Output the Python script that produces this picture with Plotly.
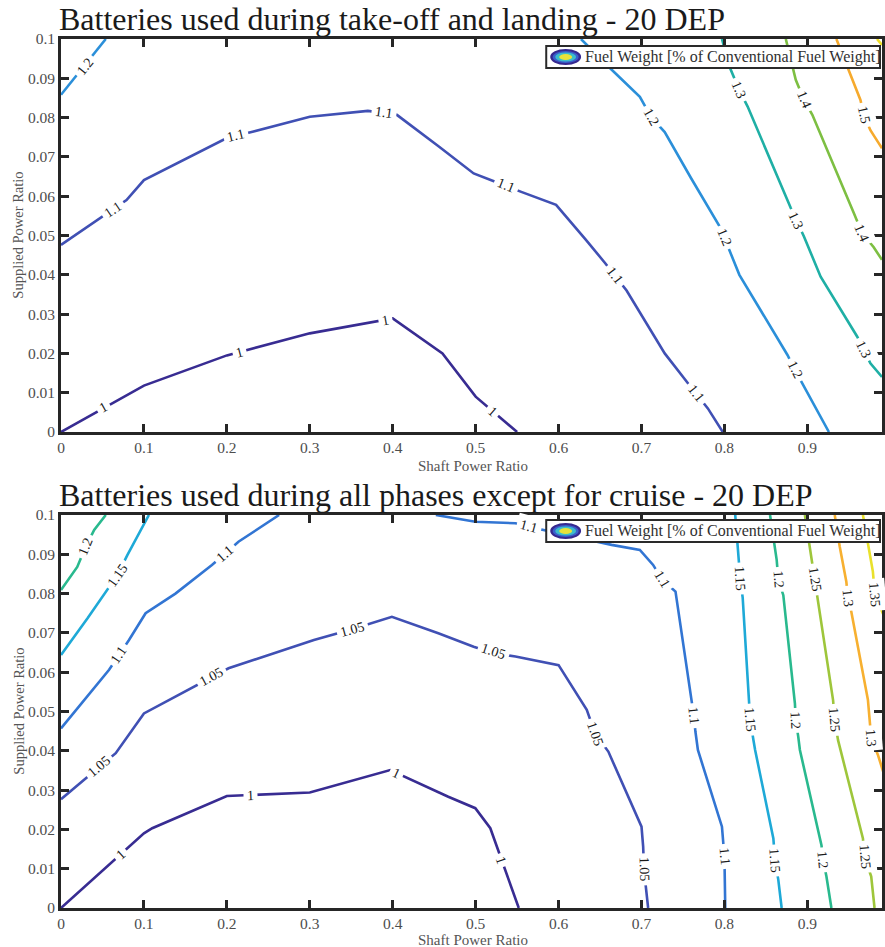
import math
import plotly.graph_objects as go

# ---------------------------------------------------------------------------
# Contour lines of fuel weight [% of conventional fuel weight]
# x = shaft power ratio, y = supplied power ratio
# ---------------------------------------------------------------------------

# Panel 1: batteries used during take-off and landing
top_100_x = [0, 0.1, 0.2, 0.3, 0.4, 0.46, 0.5, 0.55]
top_100_y = [0, 0.0118, 0.0195, 0.0251, 0.0289, 0.020, 0.009, 0]
top_100_labels = [(0.051, 0.0062), (0.215, 0.0203), (0.391, 0.0284), (0.52, 0.0052)]

top_110_x = [0, 0.079, 0.1, 0.2, 0.231, 0.3, 0.37, 0.405, 0.456, 0.4976, 0.555,
             0.597, 0.633, 0.656, 0.682, 0.728, 0.756, 0.78, 0.798]
top_110_y = [0.0476, 0.059, 0.0641, 0.0748, 0.0764, 0.0802, 0.0817, 0.0807, 0.0726,
             0.0658, 0.0611, 0.0578, 0.0489, 0.043, 0.036, 0.020, 0.0124, 0.006, 0]
top_110_labels = [(0.063, 0.0567), (0.211, 0.0754), (0.389, 0.0812), (0.537, 0.0626),
                  (0.668, 0.0398), (0.766, 0.0097)]

top_120a_x = [0, 0.054]
top_120a_y = [0.0858, 0.1]
top_120a_labels = [(0.029, 0.0931)]

top_120b_x = [0.627, 0.66, 0.698, 0.712, 0.728, 0.76, 0.795, 0.818, 0.876, 0.885, 0.926]
top_120b_y = [0.1, 0.093, 0.0853, 0.080, 0.0763, 0.0645, 0.052, 0.040, 0.0196, 0.0158, 0]
top_120b_labels = [(0.712, 0.080), (0.8, 0.0494), (0.885, 0.0158)]

top_130_x = [0.797, 0.806, 0.818, 0.828, 0.88, 0.896, 0.916, 0.96, 0.976, 0.99]
top_130_y = [0.1, 0.093, 0.087, 0.0828, 0.057, 0.0497, 0.0395, 0.0243, 0.0175, 0.014]
top_130_labels = [(0.818, 0.087), (0.886, 0.0538), (0.968, 0.0211)]

top_140_x = [0.874, 0.886, 0.896, 0.906, 0.956, 0.966, 0.98, 0.99]
top_140_y = [0.1, 0.0896, 0.0845, 0.0807, 0.0557, 0.0506, 0.047, 0.0438]
top_140_labels = [(0.896, 0.0845), (0.966, 0.0506)]

top_150_x = [0.935, 0.964, 0.968, 0.976, 0.986, 0.99]
top_150_y = [0.1, 0.0845, 0.0807, 0.0768, 0.0735, 0.0722]
top_150_labels = [(0.968, 0.0807)]

top_160_x = [0.984, 0.99]
top_160_y = [0.1, 0.0985]
top_160_labels = []

# Panel 2: batteries used during all phases except for cruise
bot_100_x = [0, 0.1, 0.11, 0.2, 0.3, 0.397, 0.467, 0.4996, 0.5177, 0.552]
bot_100_y = [0, 0.019, 0.0203, 0.0285, 0.0294, 0.0351, 0.0283, 0.0254, 0.0203, 0]
bot_100_labels = [(0.072, 0.0137), (0.228, 0.0287), (0.405, 0.0343), (0.531, 0.0122)]

bot_105_x = [0, 0.066, 0.1, 0.182, 0.202, 0.305, 0.351, 0.399, 0.455, 0.4976, 0.522,
             0.548, 0.6, 0.634, 0.644, 0.66, 0.7, 0.702, 0.703, 0.708]
bot_105_y = [0.0277, 0.0394, 0.0495, 0.0589, 0.061, 0.0682, 0.0709, 0.0741, 0.0699,
             0.0665, 0.0648, 0.064, 0.0618, 0.0504, 0.0444, 0.0398, 0.0207, 0.0156,
             0.0097, 0]
bot_105_labels = [(0.046, 0.0359), (0.182, 0.0589), (0.351, 0.0709), (0.522, 0.0652),
                  (0.644, 0.0444), (0.703, 0.0097)]

bot_110a_x = [0, 0.018, 0.058, 0.082, 0.102, 0.138, 0.182, 0.198, 0.214, 0.263]
bot_110a_y = [0.0457, 0.0504, 0.0606, 0.0682, 0.075, 0.080, 0.0873, 0.0902, 0.0932, 0.1]
bot_110a_labels = [(0.07, 0.0644), (0.198, 0.0902)]

bot_110b_x = [0.452, 0.4996, 0.548, 0.564, 0.664, 0.698, 0.714, 0.725, 0.741, 0.761,
              0.763, 0.765, 0.768, 0.797, 0.798, 0.8, 0.801]
bot_110b_y = [0.1, 0.0983, 0.0979, 0.097, 0.0924, 0.0911, 0.0873, 0.0835, 0.0805,
              0.0529, 0.049, 0.0449, 0.0402, 0.0207, 0.0173, 0.013, 0]
bot_110b_labels = [(0.564, 0.097), (0.725, 0.0835), (0.763, 0.049), (0.8, 0.013)]

bot_115a_x = [0, 0.032, 0.068, 0.08, 0.106]
bot_115a_y = [0.0644, 0.0737, 0.0847, 0.0898, 0.1]
bot_115a_labels = [(0.068, 0.0847)]

bot_115b_x = [0.813, 0.817, 0.819, 0.822, 0.829, 0.831, 0.835, 0.837, 0.859, 0.861,
              0.865, 0.869]
bot_115b_y = [0.1, 0.09, 0.0839, 0.079, 0.0529, 0.048, 0.0427, 0.0402, 0.0177, 0.0122,
              0.0071, 0]
bot_115b_labels = [(0.819, 0.0839), (0.831, 0.048), (0.861, 0.0122)]

bot_120a_x = [0, 0.0196, 0.0297, 0.04, 0.054]
bot_120a_y = [0.0809, 0.0868, 0.0919, 0.0962, 0.1]
bot_120a_labels = [(0.0297, 0.0919)]

bot_120b_x = [0.855, 0.863, 0.865, 0.871, 0.885, 0.886, 0.889, 0.891, 0.917, 0.919,
              0.923, 0.929]
bot_120b_y = [0.1, 0.0886, 0.0835, 0.0796, 0.052, 0.0478, 0.0436, 0.0402, 0.016, 0.0122,
              0.008, 0]
bot_120b_labels = [(0.865, 0.0835), (0.886, 0.0478), (0.919, 0.0122)]

bot_125_x = [0.897, 0.905, 0.909, 0.913, 0.931, 0.933, 0.937, 0.967, 0.969, 0.977, 0.981]
bot_125_y = [0.1, 0.089, 0.0835, 0.0784, 0.0529, 0.0478, 0.0427, 0.0177, 0.013, 0.008, 0]
bot_125_labels = [(0.909, 0.0835), (0.933, 0.0478), (0.969, 0.013)]

bot_130_x = [0.933, 0.939, 0.947, 0.949, 0.953, 0.973, 0.977, 0.985, 0.992]
bot_130_y = [0.1, 0.092, 0.083, 0.0788, 0.0754, 0.053, 0.0432, 0.039, 0.0343]
bot_130_labels = [(0.949, 0.0788), (0.977, 0.0432)]

bot_135_x = [0.967, 0.979, 0.9815, 0.9895, 0.992]
bot_135_y = [0.1, 0.0856, 0.0796, 0.0758, 0.0745]
bot_135_labels = [(0.9815, 0.0796)]

top_lines = [
    (1.0, top_100_x, top_100_y, top_100_labels),
    (1.1, top_110_x, top_110_y, top_110_labels),
    (1.2, top_120a_x, top_120a_y, top_120a_labels),
    (1.2, top_120b_x, top_120b_y, top_120b_labels),
    (1.3, top_130_x, top_130_y, top_130_labels),
    (1.4, top_140_x, top_140_y, top_140_labels),
    (1.5, top_150_x, top_150_y, top_150_labels),
    (1.6, top_160_x, top_160_y, top_160_labels),
]
bot_lines = [
    (1.0, bot_100_x, bot_100_y, bot_100_labels),
    (1.05, bot_105_x, bot_105_y, bot_105_labels),
    (1.1, bot_110a_x, bot_110a_y, bot_110a_labels),
    (1.1, bot_110b_x, bot_110b_y, bot_110b_labels),
    (1.15, bot_115a_x, bot_115a_y, bot_115a_labels),
    (1.15, bot_115b_x, bot_115b_y, bot_115b_labels),
    (1.2, bot_120a_x, bot_120a_y, bot_120a_labels),
    (1.2, bot_120b_x, bot_120b_y, bot_120b_labels),
    (1.25, bot_125_x, bot_125_y, bot_125_labels),
    (1.3, bot_130_x, bot_130_y, bot_130_labels),
    (1.35, bot_135_x, bot_135_y, bot_135_labels),
]

titles = ["Batteries used during take-off and landing - 20 DEP",
          "Batteries used during all phases except for cruise - 20 DEP"]
x_ticks = [0, 0.1, 0.2, 0.3, 0.4, 0.5, 0.6, 0.7, 0.8, 0.9]
x_ticktext = ["0", "0.1", "0.2", "0.3", "0.4", "0.5", "0.6", "0.7", "0.8", "0.9"]
y_ticks = [0, 0.01, 0.02, 0.03, 0.04, 0.05, 0.06, 0.07, 0.08, 0.09, 0.1]
y_ticktext = ["0", "0.01", "0.02", "0.03", "0.04", "0.05", "0.06", "0.07", "0.08",
              "0.09", "0.1"]
legend_text = "Fuel Weight [% of Conventional Fuel Weight]"

# ---------------------------------------------------------------------------
# Styling
# ---------------------------------------------------------------------------
TOP_COLORS = {1.0: "#382c92", 1.1: "#4050b4", 1.2: "#2b8fd9", 1.3: "#1fafa5",
              1.4: "#7dbf42", 1.5: "#f6aa2d", 1.6: "#f0df2a"}
BOT_COLORS = {1.0: "#382c92", 1.05: "#4050b4", 1.1: "#3275d3", 1.15: "#1ea9d7",
              1.2: "#29b98e", 1.25: "#9ec63b", 1.3: "#f7b030", 1.35: "#e9e12c"}

W, H = 885, 947
ML, MR, MT, MB = 61, 0, 39, 39
XMAX = 0.99
PLOT_W = W - ML - MR
PLOT_H = H - MT - MB
SX = PLOT_W / XMAX          # pixels per unit of shaft power ratio
SY = 393 / 0.1              # pixels per unit of supplied power ratio
TOP_DOMAIN = [(H - MB - 432) / PLOT_H, 1.0]
BOT_DOMAIN = [0.0, (H - MB - 515) / PLOT_H]

SERIF = "Liberation Serif, Times New Roman, serif"
AXIS_COLOR = "#262626"
TICK_FONT_COLOR = "#4d4d4d"


def px_x(px):
    return (px - ML) / PLOT_W


def px_y(py):
    return (H - MB - py) / PLOT_H


def label_angle(xs, ys, lx, ly):
    """Angle (clockwise, degrees) of the segment nearest to a label point."""
    best = None
    for i in range(len(xs) - 1):
        ax, ay = xs[i] * SX, -ys[i] * SY
        bx, by = xs[i + 1] * SX, -ys[i + 1] * SY
        px, py = lx * SX, -ly * SY
        dx, dy = bx - ax, by - ay
        L2 = dx * dx + dy * dy
        t = 0 if L2 == 0 else max(0, min(1, ((px - ax) * dx + (py - ay) * dy) / L2))
        d = math.hypot(ax + t * dx - px, ay + t * dy - py)
        if best is None or d < best[0]:
            best = (d, dx, dy)
    ang = math.degrees(math.atan2(best[2], best[1]))
    if ang > 90:
        ang -= 180
    elif ang < -90:
        ang += 180
    return ang


fig = go.Figure()
annotations = []
shapes = []

for lines, colors, xa, ya in [(top_lines, TOP_COLORS, "x", "y"),
                              (bot_lines, BOT_COLORS, "x2", "y2")]:
    for level, xs, ys, labels in lines:
        fig.add_trace(go.Scatter(
            x=xs, y=ys, mode="lines", xaxis=xa, yaxis=ya,
            line=dict(color=colors[level], width=2.6),
            showlegend=False, hoverinfo="skip",
        ))
        for lx, ly in labels:
            annotations.append(dict(
                x=lx, y=ly, xref=xa, yref=ya, text=f"{level:g}", showarrow=False,
                textangle=label_angle(xs, ys, lx, ly),
                font=dict(family=SERIF, size=14, color="#1a1a1a"),
                bgcolor="white", borderpad=3,
            ))

axis_common = dict(
    showline=True, linecolor=AXIS_COLOR, linewidth=2.6, mirror="ticks",
    ticks="inside", ticklen=8, tickwidth=2.5, tickcolor=AXIS_COLOR,
    showgrid=False, zeroline=False,
    tickfont=dict(family=SERIF, size=15.5, color=TICK_FONT_COLOR),
)

fig.update_layout(
    width=W, height=H,
    margin=dict(l=ML, r=MR, t=MT, b=MB),
    paper_bgcolor="white", plot_bgcolor="white",
    xaxis=dict(axis_common, domain=[0, 1], range=[0, XMAX], anchor="y",
               tickvals=x_ticks, ticktext=x_ticktext),
    yaxis=dict(axis_common, domain=TOP_DOMAIN, range=[0, 0.1], anchor="x",
               tickvals=y_ticks, ticktext=y_ticktext),
    xaxis2=dict(axis_common, domain=[0, 1], range=[0, XMAX], anchor="y2",
                tickvals=x_ticks, ticktext=x_ticktext),
    yaxis2=dict(axis_common, domain=BOT_DOMAIN, range=[0, 0.1], anchor="x2",
                tickvals=y_ticks, ticktext=y_ticktext),
)

# Titles, axis titles and legend boxes for both panels
panels = [
    dict(title=titles[0], title_y=19, ycenter=235.5, xtitle_y=466,
         leg_top=46, leg_bot=68),
    dict(title=titles[1], title_y=495, ycenter=711.5, xtitle_y=940,
         leg_top=520, leg_bot=542),
]
for p in panels:
    annotations.append(dict(
        x=px_x(57), y=px_y(p["title_y"]), xref="paper", yref="paper",
        xanchor="left", yanchor="middle", showarrow=False, text=p["title"],
        font=dict(family=SERIF, size=32, color="#1a1a1a"),
    ))
    annotations.append(dict(
        x=px_x(18), y=px_y(p["ycenter"]), xref="paper", yref="paper",
        xanchor="center", yanchor="middle", showarrow=False, textangle=-90,
        text="Supplied Power Ratio",
        font=dict(family=SERIF, size=14.5, color="#555555"),
    ))
    annotations.append(dict(
        x=px_x(475), y=px_y(p["xtitle_y"]), xref="paper", yref="paper",
        xanchor="center", yanchor="middle", showarrow=False,
        text="Shaft Power Ratio",
        font=dict(family=SERIF, size=15, color="#555555"),
    ))
    # legend frame
    shapes.append(dict(
        type="rect", xref="paper", yref="paper",
        x0=px_x(548), x1=px_x(883), y0=px_y(p["leg_bot"]), y1=px_y(p["leg_top"]),
        fillcolor="white", line=dict(color="#2a2a2a", width=2), layer="above",
    ))
    # legend glyph: nested contour rings
    cy = (p["leg_top"] + p["leg_bot"]) / 2
    cx = 567.5
    for (w, h, col) in [(31, 16, "#36288f"), (26, 12, "#3a5fcc"),
                        (21, 9, "#3cbccb"), (13, 6, "#e8e23a")]:
        shapes.append(dict(
            type="circle", xref="paper", yref="paper",
            x0=px_x(cx - w / 2), x1=px_x(cx + w / 2),
            y0=px_y(cy + h / 2), y1=px_y(cy - h / 2),
            fillcolor=col, line=dict(width=0), layer="above",
        ))
    annotations.append(dict(
        x=px_x(585), y=px_y(cy), xref="paper", yref="paper",
        xanchor="left", yanchor="middle", showarrow=False, text=legend_text,
        font=dict(family=SERIF, size=16, color="#303030"),
    ))

fig.update_layout(annotations=annotations, shapes=shapes)
fig.write_html("out.html")
